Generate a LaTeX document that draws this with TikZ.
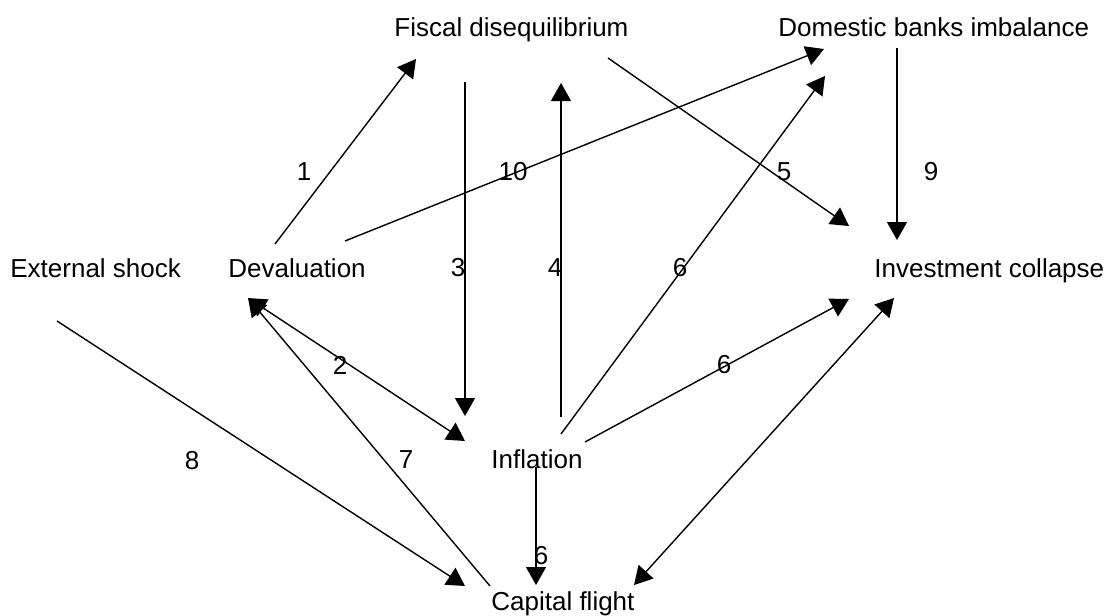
\documentclass[tikz,border=0pt]{standalone}
\usepackage{fontspec}
\setmainfont{Liberation Sans}
\usetikzlibrary{arrows.meta}

\begin{document}
\begin{tikzpicture}[
    x=0.5pt, y=-0.5pt,
    font=\fontsize{13}{15}\selectfont,
    var/.style={inner sep=0pt, anchor=base west},
    num/.style={inner sep=0pt},
    link/.style={-{Triangle[length=9pt,width=10pt]}, line width=0.7pt},
    twoway/.style={{Triangle[length=9pt,width=10pt]}-{Triangle[length=9pt,width=10pt]},
                   line width=0.7pt},
  ]
  \useasboundingbox (0,0) rectangle (1109,616);

  % --- variables ---
  \node[var] (ext) at (10,277)  {External shock};
  \node[var] (dev) at (228,277) {Devaluation};
  \node[var] (fis) at (394,36)  {Fiscal disequilibrium};
  \node[var] (bnk) at (778,36)  {Domestic banks imbalance};
  \node[var] (inv) at (874,277) {Investment collapse};
  \node[var] (inf) at (491,468) {Inflation};
  \node[var] (cap) at (491,610) {Capital flight};

  % --- free arrow ends ---
  \coordinate (devA) at (275,244);  \coordinate (fisA) at (416,59);
  \coordinate (devB) at (248,298);  \coordinate (infB) at (465,441);
  \coordinate (fisC) at (465,82);   \coordinate (infC) at (465,416);
  \coordinate (infD) at (561,417);  \coordinate (fisD) at (561,83);
  \coordinate (fisE) at (608,58);   \coordinate (invE) at (849,226);
  \coordinate (infF) at (561,434);  \coordinate (bnkF) at (825,76);
  \coordinate (infG) at (585,442);  \coordinate (invG) at (849,299);
  \coordinate (infH) at (536,467);  \coordinate (capH) at (536,585);
  \coordinate (capI) at (490,586);
  \coordinate (extJ) at (57,321);   \coordinate (capJ) at (465,586);
  \coordinate (bnkK) at (897,48);   \coordinate (invK) at (897,240);
  \coordinate (devL) at (345,241);  \coordinate (bnkL) at (824,49);
  \coordinate (invM) at (894,298);  \coordinate (capM) at (634,585);

  % --- links ---
  \draw[link]   (devA) -- (fisA);
  \draw[twoway] (devB) -- (infB);
  \draw[link]   (fisC) -- (infC);
  \draw[link]   (infD) -- (fisD);
  \draw[link]   (fisE) -- (invE);
  \draw[link]   (infF) -- (bnkF);
  \draw[link]   (infG) -- (invG);
  \draw[link]   (infH) -- (capH);
  \draw[link]   (capI) -- (devB);
  \draw[link]   (extJ) -- (capJ);
  \draw[link]   (bnkK) -- (invK);
  \draw[link]   (devL) -- (bnkL);
  \draw[twoway] (invM) -- (capM);

  % --- link numbers ---
  \node[num] (n1)  at (304,172) {1};
  \node[num] (n10) at (513,172) {10};
  \node[num] (n5)  at (784,172) {5};
  \node[num] (n9)  at (931,172) {9};
  \node[num] (n3)  at (458,268) {3};
  \node[num] (n4)  at (555,268) {4};
  \node[num] (n6a) at (680,268) {6};
  \node[num] (n2)  at (340,365) {2};
  \node[num] (n6b) at (724,365) {6};
  \node[num] (n8)  at (192,461) {8};
  \node[num] (n7)  at (406,460) {7};
  \node[num] (n6c) at (541,556) {6};
\end{tikzpicture}
\end{document}
